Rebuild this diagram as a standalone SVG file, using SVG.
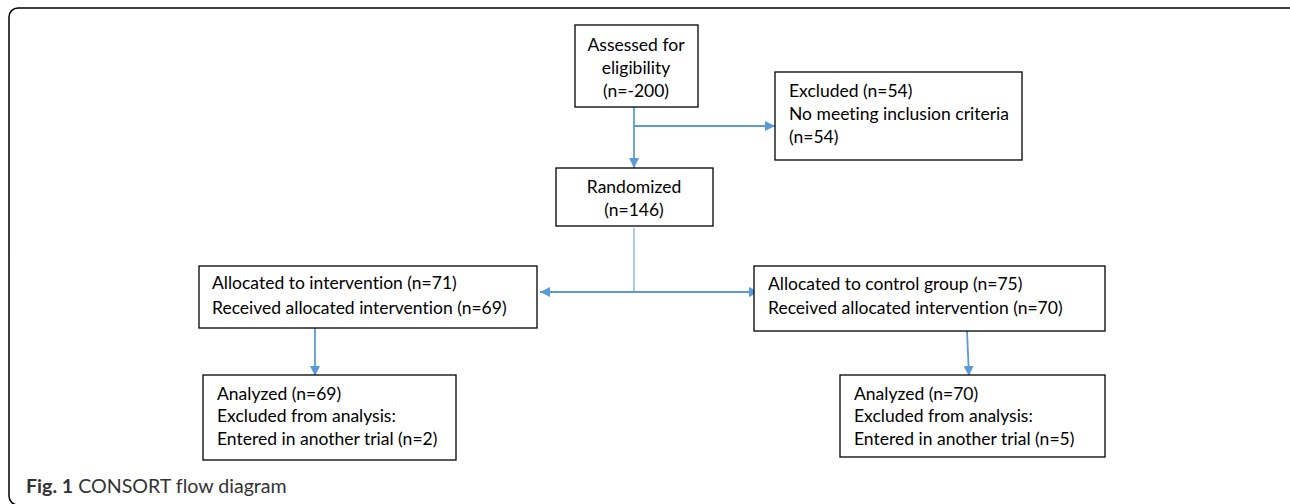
<svg xmlns="http://www.w3.org/2000/svg" width="1290" height="504" viewBox="0 0 1290 504">
<style>
.box{fill:#fff;stroke:#000;stroke-width:1.3}
.t{font-family:Lato,"Liberation Sans",sans-serif;font-size:17.5px;fill:#000;font-variant-ligatures:none}
.c{text-anchor:middle}
.ln{stroke:#5b9bd5;stroke-width:1.8;fill:none}
.thin{stroke:#5b9bd5;stroke-width:1;fill:none}
.cap{font-family:Lato,"Liberation Sans",sans-serif;font-size:19.6px;fill:#333;font-variant-ligatures:none}
</style>
<defs>
<marker id="ah" viewBox="0 0 10 10" refX="10" refY="5" markerWidth="10" markerHeight="10" markerUnits="userSpaceOnUse" orient="auto-start-reverse">
<path d="M0,0 L10,5 L0,10 z" fill="#5b9bd5"/>
</marker>
</defs>
<rect x="9" y="8" width="1300" height="497" rx="9" fill="#fff" stroke="#000" stroke-width="1.5"/>
<g id="connectors">
<line class="ln" x1="634" y1="107" x2="634" y2="168" marker-end="url(#ah)"/>
<line class="ln" x1="634" y1="126" x2="775" y2="126" marker-end="url(#ah)"/>
<line class="thin" x1="634" y1="228" x2="634" y2="292"/>
<line class="ln" x1="540" y1="292" x2="759" y2="292" marker-start="url(#ah)" marker-end="url(#ah)"/>
<line class="ln" x1="315" y1="328" x2="315" y2="376" marker-end="url(#ah)"/>
<line class="ln" x1="967" y1="331" x2="969" y2="376" marker-end="url(#ah)"/>
</g>
<g id="assessed">
<rect class="box" x="575" y="25" width="123" height="82"/>
<text class="t c" x="636" y="51">Assessed for</text>
<text class="t c" x="636" y="74">eligibility</text>
<text class="t c" x="636" y="97">(n=-200)</text>
</g>
<g id="excluded">
<rect class="box" x="775" y="72" width="247" height="88"/>
<text class="t" x="789" y="97">Excluded (n=54)</text>
<text class="t" x="789" y="120">No meeting inclusion criteria</text>
<text class="t" x="789" y="143">(n=54)</text>
</g>
<g id="randomized">
<rect class="box" x="556" y="168" width="157" height="58"/>
<text class="t c" x="634" y="193">Randomized</text>
<text class="t c" x="634" y="216">(n=146)</text>
</g>
<g id="alloc-intervention">
<rect class="box" x="199" y="266" width="338" height="62"/>
<text class="t" x="212" y="289">Allocated to intervention (n=71)</text>
<text class="t" x="212" y="314">Received allocated intervention (n=69)</text>
</g>
<g id="alloc-control">
<rect class="box" x="754" y="266" width="351" height="65"/>
<text class="t" x="768" y="290">Allocated to control group (n=75)</text>
<text class="t" x="768" y="314">Received allocated intervention (n=70)</text>
</g>
<g id="analyzed-intervention">
<rect class="box" x="203" y="375" width="253" height="85"/>
<text class="t" x="217" y="400">Analyzed (n=69)</text>
<text class="t" x="217" y="422">Excluded from analysis:</text>
<text class="t" x="217" y="445">Entered in another trial (n=2)</text>
</g>
<g id="analyzed-control">
<rect class="box" x="840" y="375" width="265" height="82"/>
<text class="t" x="854" y="400">Analyzed (n=70)</text>
<text class="t" x="854" y="422">Excluded from analysis:</text>
<text class="t" x="854" y="445">Entered in another trial (n=5)</text>
</g>
<text class="cap" x="26" y="493"><tspan font-weight="bold">Fig. 1</tspan> CONSORT flow diagram</text>
</svg>
